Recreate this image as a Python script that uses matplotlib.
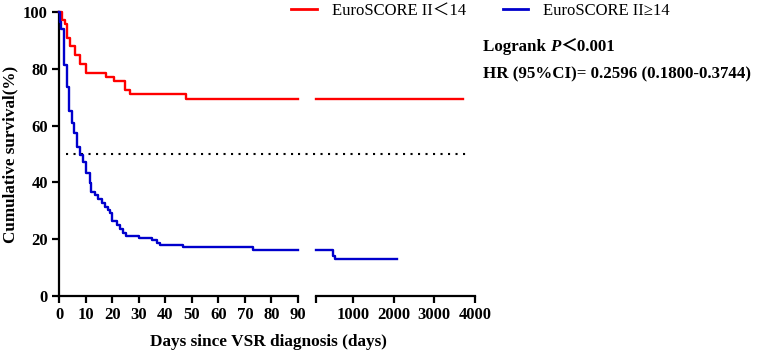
import matplotlib
matplotlib.use("Agg")
import matplotlib.pyplot as plt
from matplotlib.lines import Line2D

# Kaplan-Meier curves (days, survival %)
red_days = [0, 1.0, 2.3, 3.1, 4.1, 6.0, 7.9, 10.0, 17.7, 20.8, 24.8, 26.7, 47.8, 90]
red_surv = [100, 97.2, 95.6, 91.0, 88.0, 85.0, 81.8, 78.6, 77.2, 75.7, 72.5, 71.0, 69.4, 69.4]
red_days_late = [90, 3700]
red_surv_late = [69.4, 69.4]

blue_days = [0, 0.3, 0.8, 2.0, 2.9, 3.8, 4.8, 5.6, 6.7, 7.9, 9.2, 10.0, 11.7, 12.0,
             13.6, 14.8, 16.1, 17.3, 18.3, 19.2, 19.8, 21.7, 23.0, 24.2, 25.1, 30.1,
             34.9, 36.8, 38.0, 46.8, 72.9, 90]
blue_surv = [100, 96.5, 94.0, 81.3, 73.5, 65.0, 60.8, 57.3, 52.6, 49.6, 47.3, 43.2, 39.7, 36.7,
             35.6, 34.2, 32.8, 31.5, 30.3, 29.1, 26.5, 25.0, 23.5, 22.3, 21.2, 20.5,
             19.7, 18.8, 18.0, 17.2, 16.2, 16.2]
blue_days_late = [90, 515, 557, 2080]
blue_surv_late = [16.2, 14.1, 13.0, 13.0]

x_ticks_early = [0, 10, 20, 30, 40, 50, 60, 70, 80, 90]
x_ticks_late = [90, 1000, 2000, 3000, 4000]
x_labels_late = ["", "1000", "2000", "3000", "4000"]
y_ticks = [0, 20, 40, 60, 80, 100]

labels = ["EuroSCORE II＜14", "EuroSCORE II≥14"]
RED = "#FF0000"
BLUE = "#0000CC"

fonts = ["Liberation Serif", "Noto Sans CJK SC"]
plt.rcParams["font.family"] = fonts

fig = plt.figure(figsize=(7.65, 3.54), dpi=100)
ax1 = fig.add_axes([59 / 765, 58 / 354, 239 / 765, 284 / 354])
ax2 = fig.add_axes([316 / 765, 58 / 354, 159 / 765, 284 / 354])

lw = 1.7
ax1.step(red_days, red_surv, where="post", color=RED, lw=lw, clip_on=False, zorder=3)
ax1.step(blue_days, blue_surv, where="post", color=BLUE, lw=lw, clip_on=False, zorder=3)
ax2.step(red_days_late, red_surv_late, where="post", color=RED, lw=lw, clip_on=False)
ax2.step(blue_days_late, blue_surv_late, where="post", color=BLUE, lw=lw, clip_on=False)

# median line at 50 %
dot = dict(color="black", lw=1.5, linestyle=(0, (1, 2.6)), clip_on=False)
ax1.plot([2.5, 90], [50, 50], **dot)
ax2.plot([-350, 3800], [50, 50], **dot)

for ax in (ax1, ax2):
    ax.set_ylim(0, 100)
    ax.spines["top"].set_visible(False)
    ax.spines["right"].set_visible(False)
    ax.spines["bottom"].set_linewidth(1.6)
    ax.spines["left"].set_linewidth(1.6)
    ax.tick_params(width=1.6, length=5, labelsize=12, pad=3)

ax1.set_xlim(0, 90)
ax1.set_xticks(x_ticks_early)
ax1.set_yticks(y_ticks)
ax2.set_xlim(90, 4000)
ax2.set_xticks(x_ticks_late)
ax2.set_xticklabels(x_labels_late)
ax2.spines["left"].set_visible(False)
ax2.set_yticks([])
for t in ax1.get_xticklabels() + ax1.get_yticklabels() + ax2.get_xticklabels():
    t.set_fontweight("bold")

ax1.set_ylabel("Cumulative survival(%)", fontsize=12.3, fontweight="bold", labelpad=3)
fig.text(268 / 765, 1 - 342 / 354, "Days since VSR diagnosis (days)",
         fontsize=12.4, fontweight="bold", ha="center", va="center")

handles = [Line2D([], [], color=RED, lw=2), Line2D([], [], color=BLUE, lw=2)]
fig.legend(handles, labels, loc="center left", bbox_to_anchor=(291 / 765, 1 - 11 / 354),
           ncol=2, frameon=False, borderaxespad=0, borderpad=0,
           handlelength=1.55, handletextpad=0.9, columnspacing=2.2,
           prop={"family": fonts, "size": 12, "weight": "normal"})

# "Logrank P<0.001" with an italic P
t1 = fig.text(483 / 765, 1 - 51 / 354, "Logrank ", fontsize=12.2, fontweight="bold",
              va="baseline")
t2 = ax1.annotate("P", xy=(1, 0), xycoords=t1, ha="left", va="bottom",
                  fontsize=12.2, fontweight="bold", style="italic")
ax1.annotate("＜0.001", xy=(1, 0), xycoords=t2, ha="left", va="bottom",
             fontsize=12.2, fontweight="bold")
fig.text(483 / 765, 1 - 74 / 354, "HR (95%CI)= 0.2596 (0.1800-0.3744)",
         fontsize=12.2, fontweight="bold", va="center")

fig.savefig("out.png", dpi=100)
